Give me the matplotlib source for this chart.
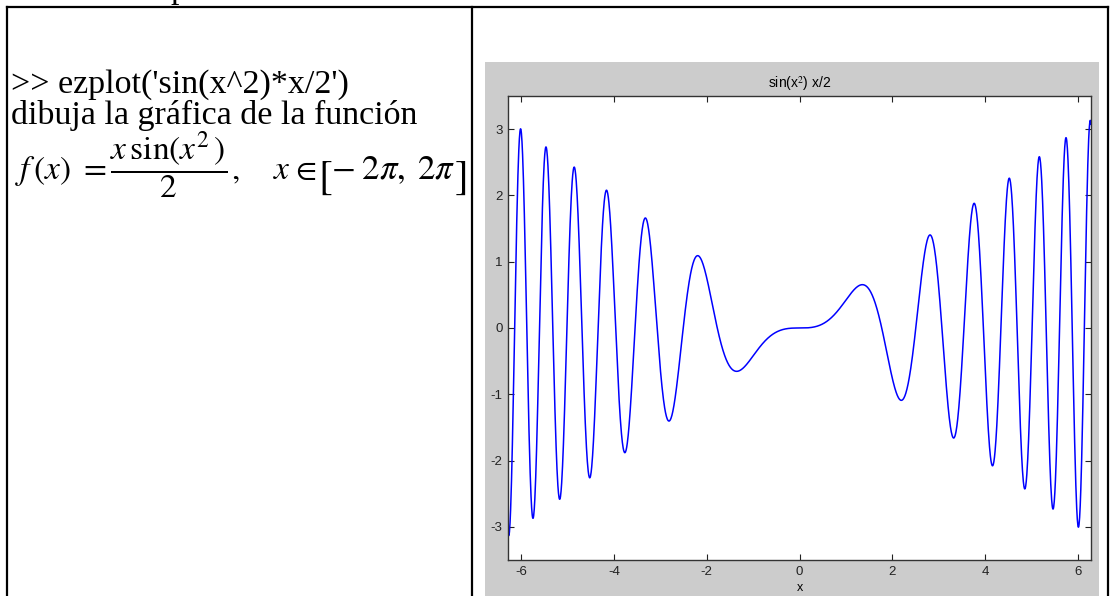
import numpy as np
import matplotlib

matplotlib.use('Agg')
import matplotlib.pyplot as plt
from matplotlib.patches import Rectangle
from matplotlib.lines import Line2D

# data: the function drawn by ezplot, over its default domain
expression = "sin(x^2)*x/2"
x_min, x_max = -2 * np.pi, 2 * np.pi
x_ticks = [-6, -4, -2, 0, 2, 4, 6]
y_ticks = [-3, -2, -1, 0, 1, 2, 3]
y_lim = (-3.5, 3.5)

x = np.linspace(x_min, x_max, 2000)
y = np.sin(x ** 2) * x / 2

plt.rcParams['mathtext.fontset'] = 'stix'
plt.rcParams['axes.unicode_minus'] = False

W, H = 1111, 596
fig = plt.figure(figsize=(W / 100, H / 100), dpi=100)
fig.patch.set_facecolor('white')


def fx(px):
    return px / W


def fy(py):
    return 1 - py / H


# table borders of the document
for (x0, y0, x1, y1) in [(7, 7, 1108, 7), (7, 7, 7, 596), (472, 7, 472, 596), (1108, 7, 1108, 596)]:
    fig.add_artist(Line2D([fx(x0), fx(x1)], [fy(y0), fy(y1)], color='black', lw=1.6,
                          solid_capstyle='projecting'))

# left cell text
serif = 'Liberation Serif'
fs = 24.5
fig.text(fx(170), fy(-2), "p", family=serif, fontsize=fs, va='baseline', ha='left')
fig.text(fx(11), fy(93), ">> ezplot('sin(x^2)*x/2')", family=serif, fontsize=fs,
         va='baseline', ha='left')
fig.text(fx(11), fy(124), "dibuja la gráfica de la función", family=serif, fontsize=fs,
         va='baseline', ha='left')

# formula, set piece by piece (equation-editor look, tall brackets)
base = 179
fig.text(fx(15), fy(base), r"$f\,(x)\ =$", fontsize=24, va='baseline', ha='left')
fig.text(fx(110), fy(base), r"$\dfrac{x\,\sin(x^{2}\,)}{2}$", fontsize=24,
         va='baseline', ha='left')
fig.text(fx(231), fy(base), r"$,$", fontsize=24, va='baseline', ha='left')
fig.text(fx(273), fy(base), r"$x$", fontsize=24, va='baseline', ha='left')
fig.text(fx(291), fy(base), r"$\in$", fontsize=22, va='baseline', ha='left')
fig.text(fx(318), fy(188), r"$[$", fontsize=30, va='baseline', ha='left')
fig.text(fx(331), fy(base), r"$-\;2\pi,\;2\pi$", fontsize=25, va='baseline', ha='left')
fig.text(fx(454), fy(188), r"$]$", fontsize=30, va='baseline', ha='left')

# grey MATLAB figure window
fig.add_artist(Rectangle((fx(485), fy(596)), fx(1099 - 485), (596 - 62) / H,
                         facecolor='#cccccc', edgecolor='none', transform=fig.transFigure,
                         zorder=0))

ax = fig.add_axes([fx(508), fy(560), fx(1091 - 508), (560 - 96) / H])
ax.plot(x, y, color='#0000ff', lw=1.1)
ax.set_xlim(x_min, x_max)
ax.set_ylim(*y_lim)
ax.set_xticks(x_ticks)
ax.set_yticks(y_ticks)
ax.tick_params(direction='in', top=True, right=True, length=4, width=0.8,
               labelsize=9.5, pad=4, colors='#222222')
for s in ax.spines.values():
    s.set_color('#333333')
    s.set_linewidth(1)
ax.set_title('sin(x$^2$) x/2', fontsize=10, family='Liberation Sans', pad=6)
ax.set_xlabel('x', fontsize=9, family='Liberation Sans', labelpad=3)
for lab in ax.get_xticklabels() + ax.get_yticklabels():
    lab.set_family('Liberation Sans')

fig.savefig('out.png', dpi=100)
